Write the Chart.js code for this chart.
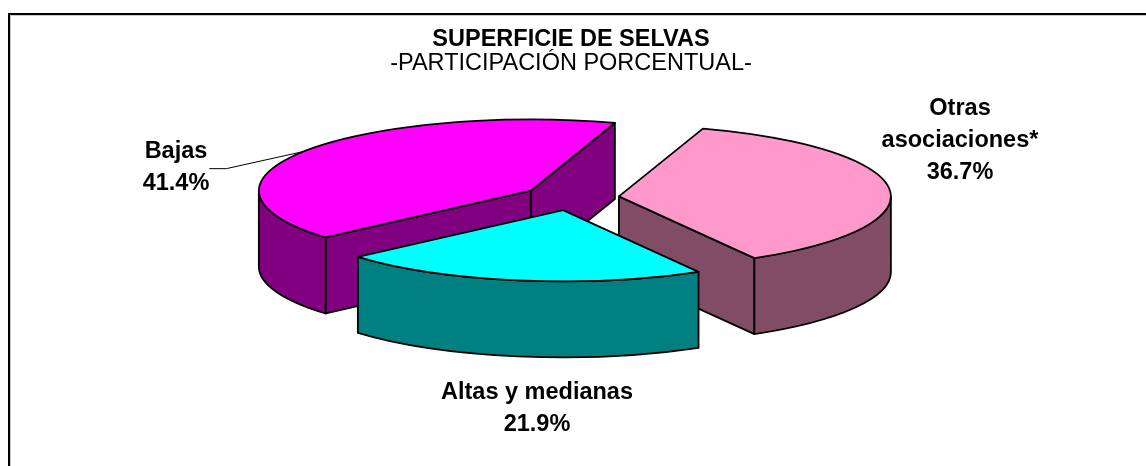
<!DOCTYPE html>
<html>
<head>
<meta charset="utf-8">
<script src="https://cdn.jsdelivr.net/npm/chart.js@4.4.1/dist/chart.umd.min.js"></script>
<style>
    html, body { margin: 0; padding: 0; background: #fff; }
    #wrap { width: 1146px; height: 466px; }
</style>
</head>
<body>
<div id="wrap"><canvas id="selvasChart" width="1146" height="466"></canvas></div>
<script>
// Share of each forest type, clockwise from the top right
const categories = [['Otras', 'asociaciones*'], ['Altas y medianas'], ['Bajas']];
const shares = [36.7, 21.9, 41.4];

const topColors = ['#FF99CC', '#00FFFF', '#FF00FF'];
const sideColors = ['#804C66', '#008080', '#800080'];

const FONT = '"Liberation Sans", Arial, Helvetica, sans-serif';

// 3D look of the pie
const PIE_RX = 272;     // horizontal radius on screen
const TILT = 0.262;     // vertical squash of the top face
const DEPTH = 76;       // thickness of the pie
const EXPLODE = 0.177;  // pull-out of every slice, fraction of the radius
const EDGE = 1.8;

// label block centres, px from the pie centre, and which ones get a leader line
const LABEL_OFFSETS = [[389, -57], [-34, 211], [-395, -30]];
const LABEL_LEADER = [false, false, true];
const LABEL_LINE = 32;

function sliceGeometry(chart) {
    const arcs = chart.getDatasetMeta(0).data;
    const cx = arcs[0].x, cy = arcs[0].y, r = arcs[0].outerRadius;
    const rx = PIE_RX, ry = PIE_RX * TILT;
    return arcs.map((arc, i) => {
        const mid = (arc.startAngle + arc.endAngle) / 2;
        return {
            arc, i, mid, cx, cy, rx, ry,
            start: arc.startAngle,
            end: arc.endAngle,
            sx: rx / r,
            sy: ry / r,
            // slice tip after pulling it out along its middle angle
            vx: cx + Math.cos(mid) * EXPLODE * rx,
            vy: cy + Math.sin(mid) * EXPLODE * ry
        };
    });
}

// parts of [s, e] that face the viewer (lower half of the ellipse)
function frontRanges(s, e) {
    const out = [];
    for (let k = -1; k <= 2; k++) {
        const a = Math.max(s, 2 * Math.PI * k);
        const b = Math.min(e, 2 * Math.PI * k + Math.PI);
        if (b > a) out.push([a, b]);
    }
    return out;
}

function drawCurvedWall(ctx, g, a, b) {
    ctx.beginPath();
    ctx.ellipse(g.vx, g.vy, g.rx, g.ry, 0, a, b, false);
    ctx.ellipse(g.vx, g.vy + DEPTH, g.rx, g.ry, 0, b, a, true);
    ctx.closePath();
    ctx.fillStyle = sideColors[g.i];
    ctx.fill();
    ctx.stroke();
}

function drawRadialWall(ctx, g, ang) {
    const px = g.vx + Math.cos(ang) * g.rx;
    const py = g.vy + Math.sin(ang) * g.ry;
    ctx.beginPath();
    ctx.moveTo(g.vx, g.vy);
    ctx.lineTo(px, py);
    ctx.lineTo(px, py + DEPTH);
    ctx.lineTo(g.vx, g.vy + DEPTH);
    ctx.closePath();
    ctx.fillStyle = sideColors[g.i];
    ctx.fill();
    ctx.stroke();
}

const pie3d = {
    id: 'pie3d',
    beforeDatasetsDraw(chart) {
        const ctx = chart.ctx;
        const slices = sliceGeometry(chart);
        ctx.save();
        ctx.strokeStyle = '#000';
        ctx.lineWidth = EDGE;
        ctx.lineJoin = 'round';

        // walls, back to front
        const order = slices.slice().sort((p, q) => Math.sin(p.mid) - Math.sin(q.mid));
        for (const g of order) {
            if (Math.cos(g.start) < 0) drawRadialWall(ctx, g, g.start);
            if (Math.cos(g.end) > 0) drawRadialWall(ctx, g, g.end);
            for (const [a, b] of frontRanges(g.start, g.end)) drawCurvedWall(ctx, g, a, b);
        }

        // top faces: the chart's own arcs, squashed and pulled out
        for (const g of slices) {
            ctx.save();
            ctx.translate(g.vx, g.vy);
            ctx.scale(g.sx, g.sy);
            ctx.translate(-g.cx, -g.cy);
            g.arc.draw(ctx);
            ctx.restore();
        }
        for (const g of slices) {
            ctx.beginPath();
            ctx.moveTo(g.vx, g.vy);
            ctx.ellipse(g.vx, g.vy, g.rx, g.ry, 0, g.start, g.end, false);
            ctx.closePath();
            ctx.stroke();
        }
        ctx.restore();
        return false;
    },
    afterDraw(chart) {
        const ctx = chart.ctx;
        const slices = sliceGeometry(chart);
        ctx.save();
        ctx.font = 'bold 23.5px ' + FONT;
        ctx.fillStyle = '#000';
        ctx.textAlign = 'center';
        ctx.textBaseline = 'middle';
        slices.forEach((g, i) => {
            const lines = [].concat(chart.data.labels[i], shares[i].toFixed(1) + '%');
            const ax = g.cx + LABEL_OFFSETS[i][0];
            const ay = g.cy + LABEL_OFFSETS[i][1];
            const y0 = ay - (lines.length - 1) * LABEL_LINE / 2;
            lines.forEach((t, k) => ctx.fillText(t, ax, y0 + k * LABEL_LINE));
            if (LABEL_LEADER[i]) {
                const w = Math.max(...lines.map(t => ctx.measureText(t).width));
                const x0 = ax + w / 2;
                ctx.beginPath();
                ctx.moveTo(x0, ay + 1);
                ctx.lineTo(x0 + 17, ay + 1);
                ctx.lineTo(g.vx + Math.cos(g.mid) * g.rx, g.vy + Math.sin(g.mid) * g.ry);
                ctx.lineWidth = 1;
                ctx.strokeStyle = '#000';
                ctx.stroke();
            }
        });

        // plot frame (top and left edges)
        const w = chart.width, h = chart.height;
        ctx.fillStyle = '#000';
        ctx.fillRect(8, 13, w - 8, 2);
        ctx.fillRect(8, 13, 2, h - 13);
        ctx.fillStyle = '#c8c8c8';
        ctx.fillRect(10, 15, w - 10, 1);
        ctx.fillRect(10, 15, 1, h - 15);
        ctx.restore();
    }
};

new Chart(document.getElementById('selvasChart'), {
    type: 'pie',
    data: {
        labels: categories,
        datasets: [{
            data: shares,
            backgroundColor: topColors,
            borderWidth: 0,
            offset: 0
        }]
    },
    options: {
        responsive: false,
        animation: false,
        rotation: 18,
        layout: { padding: { left: 0, right: 4, top: 0, bottom: 145 } },
        events: [],
        plugins: {
            legend: { display: false },
            tooltip: { enabled: false },
            title: {
                display: true,
                text: 'SUPERFICIE DE SELVAS',
                color: '#000',
                font: { family: FONT, size: 23.5, weight: 'bold', lineHeight: 1.0 },
                padding: { top: 27.5, bottom: 0 }
            },
            subtitle: {
                display: true,
                text: '-PARTICIPACIÓN PORCENTUAL-',
                color: '#000',
                font: { family: FONT, size: 23.5, weight: 'normal', lineHeight: 0.95 },
                padding: { top: 1, bottom: 0 }
            }
        }
    },
    plugins: [pie3d]
});
</script>
</body>
</html>
